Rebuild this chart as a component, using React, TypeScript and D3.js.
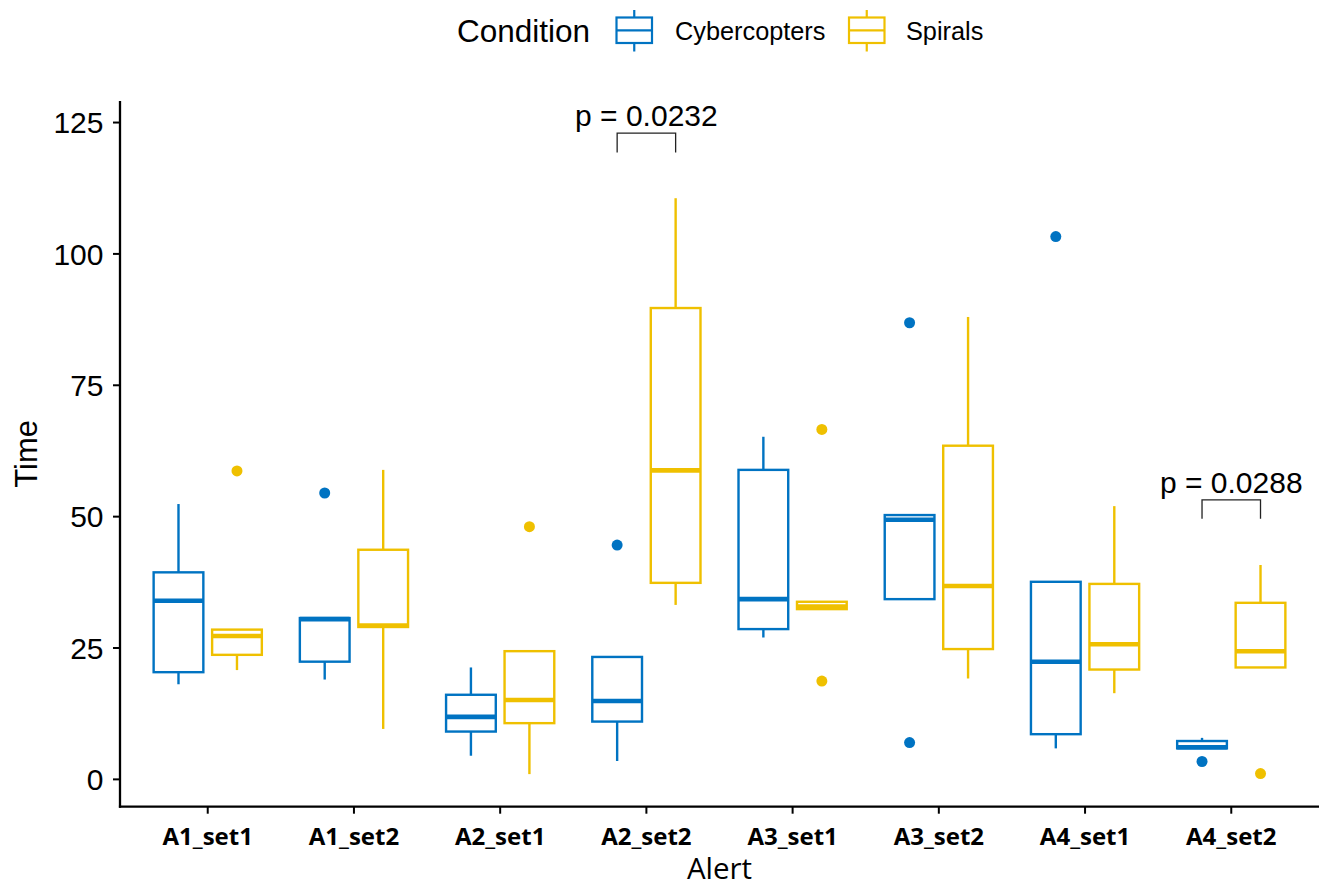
import React from "react";
import * as d3 from "d3";

const categories = ["A1_set1", "A1_set2", "A2_set1", "A2_set2", "A3_set1", "A3_set2", "A4_set1", "A4_set2"];
const groups = ["Cybercopters", "Spirals"];
const groupColors = ["#0073C2", "#EFC000"];

// [lowerWhisker, q1, median, q3, upperWhisker]
const cyberStats = [
  [18.1, 20.4, 34.0, 39.4, 52.4],
  [19.0, 22.4, 30.5, 30.7, 30.7],
  [4.5, 9.1, 11.9, 16.1, 21.3],
  [3.5, 11.0, 14.9, 23.3, 23.3],
  [27.0, 28.6, 34.3, 58.9, 65.2],
  [34.3, 34.3, 49.4, 50.3, 50.3],
  [5.9, 8.6, 22.4, 37.6, 37.6],
  [5.9, 5.9, 6.1, 7.3, 7.9],
];
const cyberOutliers = [[], [54.5], [], [44.6], [], [86.9, 7.0], [103.3], [3.4]];

const spiralStats = [
  [20.8, 23.7, 27.3, 28.5, 28.5],
  [9.6, 29.0, 29.3, 43.7, 58.9],
  [1.0, 10.7, 15.1, 24.4, 24.4],
  [33.2, 37.4, 58.8, 89.7, 110.6],
  [32.4, 32.4, 32.9, 33.8, 33.8],
  [19.2, 24.8, 36.8, 63.5, 88.0],
  [16.4, 20.9, 25.7, 37.2, 52.0],
  [21.3, 21.3, 24.4, 33.6, 40.8],
];
const spiralOutliers = [[58.7], [], [48.1], [], [66.6, 18.7], [], [], [1.1]];

const yTicks = [0, 25, 50, 75, 100, 125];

// p-value annotations: category, bracket y, tip bottom y, label
const pCategories = ["A2_set2", "A4_set2"];
const pBracketY = [123.0, 53.2];
const pTipY = [119.3, 49.6];
const pLabels = ["p = 0.0232", "p = 0.0288"];

export default function App() {
  const W = 1323, H = 888;
  const left = 120, right = 1319, top = 101, bottom = 806.7;
  const x = d3.scalePoint<string>().domain(categories).range([left, right]).padding(0.6);
  const step = x.step();
  const y = d3.scaleLinear().domain([-5.2, 129.1]).range([bottom, top]);
  const dodge = 0.2 * step;
  const boxW = 0.34 * step;
  const sw = 2.4;

  const allStats = [cyberStats, spiralStats];
  const allOut = [cyberOutliers, spiralOutliers];
  const keyX = [616.5, 849];
  const labelX = [675, 906];

  return (
    <svg width={W} height={H} style={{ position: "absolute", left: 0, top: 0, background: "#fff" }}>
      {/* legend */}
      <text x={457} y={41.5} fontFamily="Liberation Sans, Arial" fontSize={31.5} fill="#000">Condition</text>
      {groups.map((g, i) => {
        const kx = keyX[i];
        const c = groupColors[i];
        const kw = 35.5;
        return (
          <g key={g}>
            <line x1={kx + kw / 2} x2={kx + kw / 2} y1={10} y2={17.5} stroke={c} strokeWidth={2.2} />
            <line x1={kx + kw / 2} x2={kx + kw / 2} y1={43} y2={51.5} stroke={c} strokeWidth={2.2} />
            <rect x={kx} y={17.5} width={kw} height={25.5} fill="#fff" stroke={c} strokeWidth={2.2} />
            <line x1={kx} x2={kx + kw} y1={30.3} y2={30.3} stroke={c} strokeWidth={2.2} />
            <text x={labelX[i]} y={40} fontFamily="Liberation Sans, Arial" fontSize={25.3} fill="#000">{g}</text>
          </g>
        );
      })}

      {/* boxes */}
      {allStats.map((stats, gi) => {
        const c = groupColors[gi];
        const off = gi === 0 ? -dodge : dodge;
        return (
          <g key={gi}>
            {categories.map((cat, ci) => {
              const [lw, q1, med, q3, uw] = stats[ci];
              const cx = (x(cat) as number) + off;
              return (
                <g key={cat}>
                  {uw > q3 && <line x1={cx} x2={cx} y1={y(uw)} y2={y(q3)} stroke={c} strokeWidth={sw} />}
                  {lw < q1 && <line x1={cx} x2={cx} y1={y(q1)} y2={y(lw)} stroke={c} strokeWidth={sw} />}
                  <rect x={cx - boxW / 2} y={y(q3)} width={boxW} height={y(q1) - y(q3)} fill="#fff" stroke={c} strokeWidth={sw} />
                  <line x1={cx - boxW / 2} x2={cx + boxW / 2} y1={y(med)} y2={y(med)} stroke={c} strokeWidth={sw * 1.9} />
                  {allOut[gi][ci].map((o, oi) => (
                    <circle key={oi} cx={cx} cy={y(o)} r={5.5} fill={c} />
                  ))}
                </g>
              );
            })}
          </g>
        );
      })}

      {/* p-value brackets */}
      {pCategories.map((cat, i) => {
        const cx = x(cat) as number;
        const x1 = cx - dodge, x2 = cx + dodge;
        return (
          <g key={cat}>
            <path d={`M${x1},${y(pTipY[i])}V${y(pBracketY[i])}H${x2}V${y(pTipY[i])}`} fill="none" stroke="#222" strokeWidth={1.3} />
            <text x={cx} y={y(pBracketY[i]) - 7} textAnchor="middle" fontFamily="Liberation Sans, Arial" fontSize={30} fill="#000">{pLabels[i]}</text>
          </g>
        );
      })}

      {/* axes */}
      <line x1={left} x2={left} y1={top} y2={bottom + 1.1} stroke="#000" strokeWidth={2.3} />
      <line x1={left - 1.1} x2={right} y1={bottom} y2={bottom} stroke="#000" strokeWidth={2.3} />
      {yTicks.map((t) => (
        <g key={t}>
          <line x1={left - 7} x2={left} y1={y(t)} y2={y(t)} stroke="#000" strokeWidth={2} />
          <text x={103.5} y={y(t) + 10.8} textAnchor="end" fontFamily="Liberation Sans, Arial" fontSize={30} fill="#000">{t}</text>
        </g>
      ))}
      {categories.map((c) => (
        <g key={c}>
          <line x1={x(c) as number} x2={x(c) as number} y1={bottom} y2={bottom + 7} stroke="#000" strokeWidth={2} />
          <text x={x(c) as number} y={845} textAnchor="middle" fontFamily="Open Sans" fontWeight={700} fontSize={24} fill="#000">{c}</text>
        </g>
      ))}
      <text x={(left + right) / 2} y={879} textAnchor="middle" fontFamily="Open Sans" fontSize={29.5} fill="#000">Alert</text>
      <text transform={`translate(36.5,${(top + bottom) / 2}) rotate(-90)`} textAnchor="middle" fontFamily="Liberation Sans, Arial" fontSize={31} fill="#000">Time</text>
    </svg>
  );
}
